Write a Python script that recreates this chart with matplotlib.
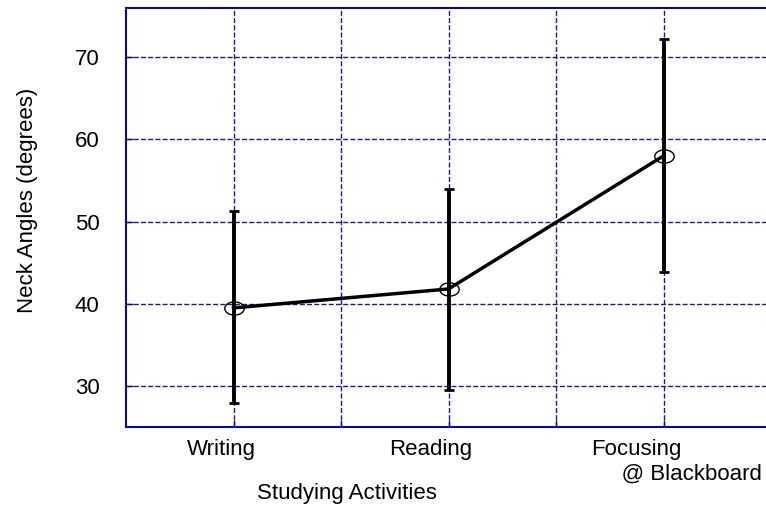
import matplotlib
matplotlib.use("Agg")
import matplotlib.pyplot as plt
from matplotlib import font_manager
from matplotlib.path import Path
from matplotlib.transforms import Affine2D, ScaledTranslation

activities = ["Writing", "Reading", "Focusing\n     @ Blackboard"]
mean_angle = [39.5, 41.8, 58.0]
err_low = [27.9, 29.5, 43.9]
err_high = [51.3, 54.0, 72.2]
y_ticks = [30, 40, 50, 60, 70]

names = {f.name for f in font_manager.fontManager.ttflist}
family = "Liberation Sans" if "Liberation Sans" in names else "DejaVu Sans"
plt.rcParams["font.family"] = [family, "DejaVu Sans"]

blue = "#0a0aa0"
grid_blue = "#1a1a90"
fig = plt.figure(figsize=(7.66, 5.08), dpi=100)
ax = fig.add_axes([126 / 766, 81 / 508, 645 / 766, 419 / 508])

# flattened circle used as the mean marker
ellipse = Path.unit_circle().transformed(Affine2D().scale(1.0, 0.68))

x = list(range(1, len(activities) + 1))
yerr = [[m - lo for m, lo in zip(mean_angle, err_low)],
        [hi - m for m, hi in zip(mean_angle, err_high)]]
ax.errorbar(x, mean_angle, yerr=yerr, fmt="none", ecolor="black",
            elinewidth=2.8, capsize=3.6, capthick=2, zorder=3)
ax.plot(x, mean_angle, color="black", lw=2.5, zorder=4)
ax.plot(x, mean_angle, linestyle="none", marker=ellipse, ms=14,
        mfc="none", mec="black", mew=1, zorder=5)

ax.set_xlim(0.5, 3.5)
ax.set_ylim(25, 76)
ax.set_xticks(x)
ax.set_xticklabels(activities, fontsize=16, multialignment="left")
ax.set_xticks([1.5, 2.5], minor=True)
ax.set_yticks(y_ticks)
ax.set_yticklabels([str(v) for v in y_ticks], fontsize=16)
ax.tick_params(axis="both", which="both", direction="in", length=5,
               color=blue, width=1)
ax.tick_params(axis="x", pad=9)
ax.tick_params(axis="y", pad=19)

# horizontal nudges (pixels) for the category labels
label_shift = [-12, -18, 13]
for lbl, dx in zip(ax.get_xticklabels(), label_shift):
    lbl.set_transform(lbl.get_transform()
                      + ScaledTranslation(dx / 100, 0, fig.dpi_scale_trans))

ax.grid(True, which="both", color=grid_blue, linestyle=(0, (3.6, 1.6)),
        linewidth=1)
ax.set_axisbelow(True)
for s in ax.spines.values():
    s.set_color(blue)
    s.set_linewidth(1.5)

fig.text(347 / 766, 1 - 494 / 508, "Studying Activities", ha="center",
         va="center", fontsize=16)
fig.text(27 / 766, 1 - 200 / 508, "Neck Angles (degrees)", rotation=90,
         ha="center", va="center", fontsize=16)

fig.savefig("out.png", dpi=100)
